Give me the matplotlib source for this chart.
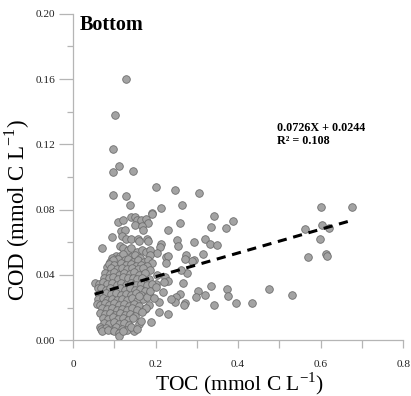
import matplotlib
matplotlib.use('Agg')
import matplotlib.pyplot as plt
import numpy as np

# TOC vs COD, bottom layer
toc_out = [0.128, 0.102, 0.097, 0.110, 0.097, 0.145, 0.097, 0.128, 0.137, 0.200,
           0.248, 0.305, 0.263, 0.214, 0.190, 0.341, 0.388, 0.260, 0.335, 0.370,
           0.230, 0.600, 0.676, 0.602, 0.562, 0.621, 0.599, 0.570, 0.612, 0.616,
           0.474, 0.531, 0.434, 0.394, 0.342, 0.373, 0.376, 0.333, 0.320, 0.303,
           0.297, 0.320, 0.294, 0.331, 0.348, 0.314, 0.294, 0.287, 0.274, 0.271,
           0.252, 0.255, 0.267, 0.259, 0.250, 0.246, 0.272, 0.269, 0.237, 0.218,
           0.208, 0.208, 0.229, 0.188, 0.275, 0.262, 0.226, 0.231, 0.226, 0.213,
           0.210, 0.203, 0.222, 0.230, 0.220, 0.204, 0.200]
cod_out = [0.1600, 0.1380, 0.1170, 0.1065, 0.1030, 0.1035, 0.0890, 0.0885, 0.0830, 0.0940,
           0.0920, 0.0900, 0.0830, 0.0810, 0.0780, 0.0760, 0.0730, 0.0720, 0.0695, 0.0687,
           0.0675, 0.0814, 0.0814, 0.0708, 0.0683, 0.0685, 0.0620, 0.0510, 0.0530, 0.0513,
           0.0315, 0.0278, 0.0229, 0.0229, 0.0215, 0.0315, 0.0272, 0.0335, 0.0278, 0.0303,
           0.0262, 0.0622, 0.0601, 0.0590, 0.0585, 0.0528, 0.0490, 0.0485, 0.0523, 0.0495,
           0.0613, 0.0575, 0.0352, 0.0282, 0.0266, 0.0231, 0.0229, 0.0213, 0.0254, 0.0294,
           0.0231, 0.0174, 0.0160, 0.0112, 0.0413, 0.0431, 0.0507, 0.0515, 0.0474, 0.0587,
           0.0573, 0.0536, 0.0390, 0.0360, 0.0358, 0.0399, 0.0346]

toc_upper = [0.109, 0.120, 0.140, 0.150, 0.155, 0.164, 0.176, 0.182, 0.190, 0.117,
             0.126, 0.150, 0.168, 0.170, 0.095, 0.119, 0.129, 0.140, 0.156, 0.159,
             0.178, 0.182, 0.070, 0.113, 0.121, 0.133, 0.141, 0.154, 0.166, 0.176,
             0.187]
cod_upper = [0.0724, 0.0739, 0.0755, 0.0755, 0.0735, 0.0739, 0.0745, 0.0720, 0.0776, 0.0667,
             0.0678, 0.0706, 0.0698, 0.0678, 0.0633, 0.0639, 0.0618, 0.0622, 0.0618, 0.0608,
             0.0622, 0.0608, 0.0565, 0.0576, 0.0565, 0.0555, 0.0565, 0.0541, 0.0551, 0.0541,
             0.0551]

toc_core = [0.103, 0.113, 0.121, 0.139, 0.150, 0.162, 0.186, 0.093, 0.109, 0.125, 0.133, 0.145,
            0.158, 0.171, 0.182, 0.192, 0.089, 0.097,
            0.081, 0.086, 0.100, 0.115, 0.128, 0.140, 0.152, 0.165, 0.178, 0.092, 0.106, 0.118,
            0.131, 0.143, 0.157, 0.170, 0.186,
            0.078, 0.090, 0.100, 0.112, 0.124, 0.137, 0.148, 0.160, 0.175, 0.075, 0.088, 0.097,
            0.108, 0.120, 0.133, 0.145, 0.155, 0.168, 0.183,
            0.053, 0.062, 0.072, 0.083, 0.094, 0.106, 0.117, 0.128, 0.140, 0.152, 0.165, 0.178,
            0.190,
            0.060, 0.068, 0.079, 0.090, 0.102, 0.113, 0.125, 0.137, 0.149, 0.162, 0.175,
            0.063, 0.070, 0.080, 0.092, 0.104, 0.115, 0.127, 0.140, 0.152, 0.164, 0.183,
            0.061, 0.072, 0.083, 0.095, 0.107, 0.118, 0.130, 0.142, 0.155, 0.170,
            0.058, 0.065, 0.076, 0.088, 0.100, 0.112, 0.124, 0.136, 0.148, 0.160,
            0.070, 0.082, 0.094, 0.106, 0.118, 0.130, 0.142, 0.155, 0.173,
            0.066, 0.078, 0.090, 0.102, 0.114, 0.126, 0.138, 0.150,
            0.072, 0.085, 0.097, 0.109, 0.121, 0.133, 0.145,
            0.075, 0.088, 0.100, 0.112, 0.124, 0.136, 0.160,
            0.065, 0.068, 0.080, 0.093, 0.105, 0.118, 0.130, 0.148, 0.140,
            0.070, 0.085, 0.098, 0.110, 0.111, 0.122,
            0.164, 0.154, 0.185, 0.179, 0.197, 0.159, 0.186, 0.200, 0.176, 0.168]
cod_core = [0.0514, 0.0518, 0.0531, 0.0510, 0.0520, 0.0506, 0.0520, 0.0506, 0.0500, 0.0490, 0.0500, 0.0480,
            0.0490, 0.0480, 0.0490, 0.0473, 0.0480, 0.0490,
            0.0449, 0.0468, 0.0462, 0.0470, 0.0458, 0.0466, 0.0455, 0.0462, 0.0452, 0.0440, 0.0436, 0.0445,
            0.0438, 0.0442, 0.0435, 0.0441, 0.0433,
            0.0412, 0.0405, 0.0418, 0.0402, 0.0413, 0.0404, 0.0416, 0.0401, 0.0410, 0.0382, 0.0378, 0.0389,
            0.0375, 0.0386, 0.0379, 0.0384, 0.0372, 0.0380, 0.0376,
            0.0350, 0.0345, 0.0355, 0.0342, 0.0352, 0.0340, 0.0349, 0.0338, 0.0353, 0.0341, 0.0347, 0.0336,
            0.0345,
            0.0318, 0.0322, 0.0310, 0.0320, 0.0308, 0.0317, 0.0306, 0.0319, 0.0310, 0.0315, 0.0302,
            0.0285, 0.0278, 0.0290, 0.0281, 0.0289, 0.0275, 0.0286, 0.0279, 0.0288, 0.0276, 0.0280,
            0.0250, 0.0258, 0.0247, 0.0255, 0.0244, 0.0253, 0.0246, 0.0256, 0.0243, 0.0250,
            0.0222, 0.0215, 0.0226, 0.0218, 0.0228, 0.0214, 0.0224, 0.0212, 0.0221, 0.0210,
            0.0195, 0.0188, 0.0198, 0.0185, 0.0194, 0.0187, 0.0197, 0.0182, 0.0190,
            0.0165, 0.0158, 0.0168, 0.0155, 0.0164, 0.0152, 0.0162, 0.0150,
            0.0138, 0.0130, 0.0140, 0.0127, 0.0136, 0.0125, 0.0133,
            0.0108, 0.0101, 0.0110, 0.0098, 0.0106, 0.0095, 0.0102,
            0.0078, 0.0068, 0.0075, 0.0065, 0.0078, 0.0070, 0.0062, 0.0055, 0.0080,
            0.0055, 0.0060, 0.0055, 0.0045, 0.0027, 0.0058,
            0.0119, 0.0067, 0.0215, 0.0266, 0.0256, 0.0270, 0.0303, 0.0323, 0.0200, 0.0174]

toc = np.array(toc_out + toc_upper + toc_core)
cod = np.array(cod_out + cod_upper + cod_core)

slope, intercept = 0.0726, 0.0244
fit_x = np.array([0.052, 0.676])

plt.rcParams['font.family'] = ['Liberation Serif', 'DejaVu Serif']

fig = plt.figure(figsize=(4.11, 3.96), dpi=100)
ax = fig.add_axes([0.178, 0.141, 0.803, 0.824])

ax.scatter(toc, cod, s=30, facecolor='#a3a3a3', edgecolor='#6e6e6e', linewidths=0.6, zorder=2)
ax.plot(fit_x, slope * fit_x + intercept, color='black', lw=2.2, ls=(0, (3, 2.2)), zorder=3)

ax.set_xlim(0, 0.8)
ax.set_ylim(0, 0.20)
ax.set_xticks([0, 0.2, 0.4, 0.6, 0.8])
ax.set_xticklabels(['0', '0.2', '0.4', '0.6', '0.8'])
ax.set_xticks([0.1, 0.3, 0.5, 0.7], minor=True)
ax.set_yticks([0, 0.04, 0.08, 0.12, 0.16, 0.20])
ax.set_yticklabels(['0.00', '0.04', '0.08', '0.12', '0.16', '0.20'])
ax.set_yticks([0.02, 0.06, 0.10, 0.14, 0.18], minor=True)

for s in ['top', 'right']:
    ax.spines[s].set_visible(False)
for s in ['left', 'bottom']:
    ax.spines[s].set_color('#b5b5b5')
    ax.spines[s].set_linewidth(0.9)

ax.tick_params(axis='both', which='both', color='#b5b5b5', width=0.9, labelsize=8.2, labelcolor='#222222')
ax.tick_params(axis='x', which='both', length=6, pad=8)
ax.tick_params(axis='y', which='major', length=10, pad=3)
ax.tick_params(axis='y', which='minor', length=4)

ax.set_xlabel(r'TOC (mmol C L$^{\mathregular{-1}}$)', fontsize=15.5)
ax.xaxis.set_label_coords(0.503, -0.132)
ax.xaxis.label.set_va('center')
ax.set_ylabel(r'COD (mmol C L$^{\mathregular{-1}}$)', fontsize=16.5)
ax.yaxis.set_label_coords(-0.17, 0.40)
ax.yaxis.label.set_va('center')

ax.text(0.017, 0.193, 'Bottom', fontsize=14.5, fontweight='bold', va='center', ha='left')
ax.text(0.495, 0.130, '0.0726X + 0.0244', fontsize=8.7, fontweight='bold', va='center', ha='left')
ax.text(0.495, 0.122, 'R\u00b2 = 0.108', fontsize=8.7, fontweight='bold', va='center', ha='left')

fig.savefig('out.png', dpi=100)
